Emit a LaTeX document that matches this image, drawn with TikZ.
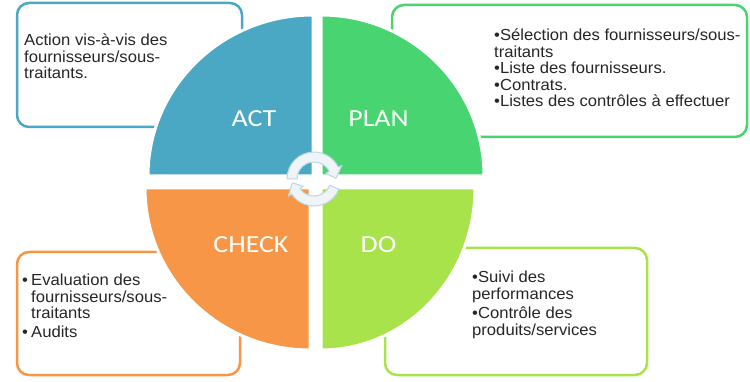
\documentclass[tikz,border=0pt]{standalone}
\usepackage{fontspec}
\usetikzlibrary{calc}
\newfontfamily\boxfont{Liberation Sans}[FakeStretch=1.04]
\newfontfamily\labfont{Carlito}[FakeStretch=1.14]
\definecolor{actc}{HTML}{4AA8C5}
\definecolor{planc}{HTML}{47D471}
\definecolor{checkc}{HTML}{F79646}
\definecolor{doc}{HTML}{A8E34B}
\definecolor{arrfill}{HTML}{EEF4F7}
\definecolor{arrline}{HTML}{BCD6E2}
\definecolor{txt}{HTML}{262626}
\tikzset{
  infobox/.style={rounded corners=12pt, line width=2.5pt, fill=white},
  quarter/.style={draw=white, line width=3pt},
  lab/.style={anchor=base, text=white, font=\labfont\fontsize{24.5}{26}\selectfont, inner sep=0pt},
  boxtext/.style={anchor=base west, inner sep=0pt, text=txt},
  cyc/.style={fill=arrfill, draw=arrline, line width=1pt, line join=round}
}
\newcommand{\btext}[2]{\parbox[t]{#1}{\boxfont\fontsize{16}{16.5}\selectfont\raggedright #2}}
\begin{document}
\begin{tikzpicture}[x=1pt, y=-1pt]
\useasboundingbox (0,0) rectangle (750,382);
% boxes
\draw[infobox, draw=actc] (17,3) rectangle (242,127);
\draw[infobox, draw=planc] (392,5) rectangle (747,137);
\draw[infobox, draw=checkc] (17,252) rectangle (240,375);
\draw[infobox, draw=doc] (385,248) rectangle (647,375);
% quarters
\path[quarter, fill=actc] (313,176) -- ++(-165,0) arc[start angle=180, end angle=270, x radius=165, y radius=161] -- cycle;
\path[quarter, fill=planc] (321,176) -- ++(0,-161) arc[start angle=270, end angle=360, x radius=163, y radius=161] -- cycle;
\path[quarter, fill=doc] (321,188) -- ++(154,0) arc[start angle=0, end angle=90, x radius=154, y radius=162] -- cycle;
\path[quarter, fill=checkc] (310,188) -- ++(0,162) arc[start angle=90, end angle=180, x radius=165, y radius=162] -- cycle;
% labels
\node[lab] (act) at (254,127) {ACT};
\node[lab] (plan) at (378.5,127) {PLAN};
\node[lab] (check) at (251,253) {CHECK};
\node[lab] (do) at (378.5,253) {DO};
% cycle arrows
\coordinate (C) at (314,179);
\draw[cyc] ($(C)+(180:27)$) arc[start angle=180, end angle=334, radius=27]
  -- ($(C)+(334:31)$) -- ($(C)+(358:22)$) -- ($(C)+(334:13)$) -- ($(C)+(334:17)$)
  arc[start angle=334, end angle=180, radius=17] -- cycle;
\draw[cyc] ($(C)+(22:27)$) arc[start angle=22, end angle=146, radius=27]
  -- ($(C)+(146:31)$) -- ($(C)+(170:22)$) -- ($(C)+(146:13)$) -- ($(C)+(146:17)$)
  arc[start angle=146, end angle=22, radius=17] -- cycle;
% texts
\node[boxtext] (acttext) at (24,46) {\btext{210pt}{Action vis-à-vis des\\fournisseurs/sous-\\traitants.}};
\node[boxtext] (plantext) at (494,41) {\btext{250pt}{•Sélection des fournisseurs/sous-\\traitants\\•Liste des fournisseurs.\\•Contrats.\\•Listes des contrôles à effectuer}};
\node[boxtext] (checktext) at (22,286) {\btext{210pt}{\makebox[9pt][l]{•}Evaluation des\\\hspace*{9pt}fournisseurs/sous-\\\hspace*{9pt}traitants\\[2pt]\makebox[9pt][l]{•}Audits}};
\node[boxtext] (dotext) at (472,283) {\btext{170pt}{•Suivi des\\performances\\[3pt]•Contrôle des\\produits/services}};
\end{tikzpicture}
\end{document}
